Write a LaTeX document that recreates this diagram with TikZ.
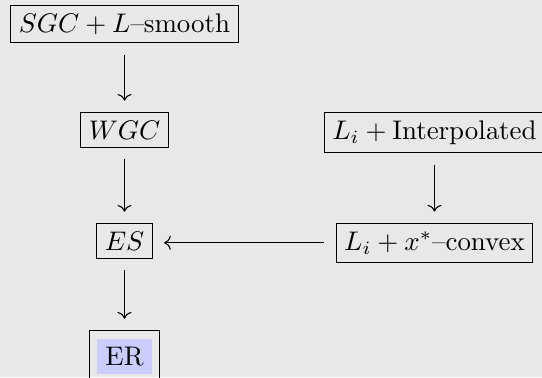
\documentclass[tikz,border=0pt]{standalone}
\usepackage{xcolor}
\usepackage{tikz-cd}
\definecolor{bgc}{RGB}{232,232,232}
\begin{document}
\begin{tikzpicture}[x=0.3717pt,y=-0.3717pt,
  cbox/.style={draw, line width=0.4pt, inner sep=3pt, anchor=base, fill=none},
  arr/.style={-{cm to}, line width=0.4pt, shorten <=4.4pt, shorten >=4.2pt}]
\fill[bgc] (0,0) rectangle (542,377);
\useasboundingbox (0,0) rectangle (542,377);
\clip (0,0) rectangle (542,377);
\node[cbox] (sgc) at (124.5,32.5) {$SGC + L$--smooth};
\node[cbox] (wgc) at (124.5,139) {$WGC$};
\node[cbox] (es)  at (124.5,250) {$ES$};
\node[cbox] (er)  at (124.5,365) {\colorbox{blue!20}{ER}};
\node[cbox] (li)  at (434.5,139) {$L_i + \mathrm{Interpolated}$};
\node[cbox] (lx)  at (434.5,250) {$L_i + x^*$--convex};
\draw[arr] (sgc) -- (wgc);
\draw[arr] (wgc) -- (es);
\draw[arr] (es) -- (er);
\draw[arr] (li) -- (lx);
\draw[arr] (lx.west) -- (es.east |- lx.west);
\end{tikzpicture}
\end{document}
